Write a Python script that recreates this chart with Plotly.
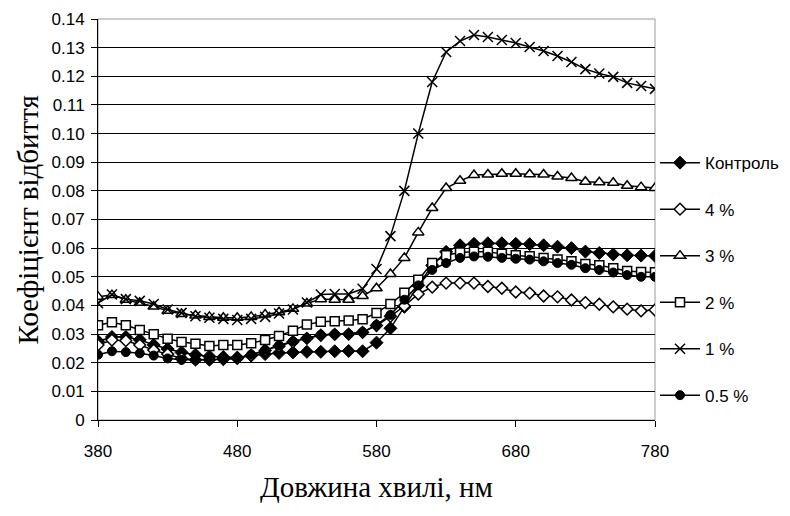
import plotly.graph_objects as go

wavelength = list(range(380, 781, 10))

kontrol = [0.0275, 0.0290, 0.0290, 0.0280, 0.0262, 0.0248, 0.0236, 0.0228, 0.0222, 0.0220,
           0.0218, 0.0225, 0.0230, 0.0234, 0.0236, 0.0238, 0.0238, 0.0240, 0.0241, 0.0240,
           0.0270, 0.0320, 0.0395, 0.0470, 0.0540, 0.0587, 0.0610, 0.0615, 0.0617, 0.0617,
           0.0615, 0.0614, 0.0610, 0.0605, 0.0600, 0.0588, 0.0583, 0.0578, 0.0575, 0.0574, 0.0573]

p4 = [0.0262, 0.0279, 0.0277, 0.0262, 0.0244, 0.0230, 0.0215, 0.0210, 0.0210, 0.0212,
      0.0215, 0.0226, 0.0243, 0.0258, 0.0273, 0.0285, 0.0296, 0.0299, 0.0300, 0.0306,
      0.0330, 0.0362, 0.0398, 0.0440, 0.0464, 0.0478, 0.0478, 0.0478, 0.0466, 0.0460,
      0.0447, 0.0443, 0.0433, 0.0430, 0.0419, 0.0410, 0.0404, 0.0395, 0.0387, 0.0381, 0.0384]

p3 = [0.0430, 0.0436, 0.0420, 0.0409, 0.0396, 0.0381, 0.0370, 0.0365, 0.0360, 0.0357,
      0.0357, 0.0360, 0.0368, 0.0376, 0.0388, 0.0407, 0.0422, 0.0420, 0.0420, 0.0433,
      0.0460, 0.0510, 0.0566, 0.0655, 0.0740, 0.0810, 0.0835, 0.0855, 0.0857, 0.0860,
      0.0860, 0.0858, 0.0857, 0.0850, 0.0845, 0.0832, 0.0830, 0.0828, 0.0818, 0.0813, 0.0810]

p2 = [0.0331, 0.0341, 0.0331, 0.0314, 0.0299, 0.0284, 0.0272, 0.0266, 0.0258, 0.0262,
      0.0262, 0.0268, 0.0279, 0.0293, 0.0312, 0.0333, 0.0343, 0.0345, 0.0347, 0.0352,
      0.0374, 0.0405, 0.0444, 0.0490, 0.0548, 0.0575, 0.0585, 0.0587, 0.0587, 0.0580,
      0.0575, 0.0572, 0.0566, 0.0560, 0.0554, 0.0545, 0.0540, 0.0530, 0.0520, 0.0517, 0.0516]

p1 = [0.0408, 0.0438, 0.0422, 0.0416, 0.0405, 0.0386, 0.0374, 0.0362, 0.0357, 0.0353,
      0.0349, 0.0353, 0.0360, 0.0372, 0.0386, 0.0410, 0.0438, 0.0440, 0.0440, 0.0458,
      0.0527, 0.0642, 0.0800, 0.1000, 0.1180, 0.1285, 0.1323, 0.1344, 0.1337, 0.1327,
      0.1316, 0.1302, 0.1288, 0.1271, 0.1250, 0.1225, 0.1210, 0.1198, 0.1177, 0.1166, 0.1156]

p05 = [0.0228, 0.0240, 0.0237, 0.0233, 0.0225, 0.0215, 0.0210, 0.0210, 0.0210, 0.0213,
       0.0216, 0.0228, 0.0245, 0.0260, 0.0275, 0.0286, 0.0297, 0.0300, 0.0300, 0.0307,
       0.0332, 0.0367, 0.0420, 0.0470, 0.0524, 0.0548, 0.0566, 0.0571, 0.0570, 0.0566,
       0.0563, 0.0560, 0.0554, 0.0548, 0.0542, 0.0530, 0.0524, 0.0515, 0.0506, 0.0500, 0.0500]

series_names = ["Контроль", "4 %", "3 %", "2 %", "1 %", "0.5 %"]
series_values = [kontrol, p4, p3, p2, p1, p05]

x_ticks = [380, 480, 580, 680, 780]
y_tickvals = [i / 100 for i in range(0, 15)]
y_ticktext = ["0"] + ["%.2f" % v for v in y_tickvals[1:]]

x_title = "Довжина хвилі, нм"
y_title = "Коефіцієнт відбиття"

styles = [
    dict(symbol="diamond", size=10, color="black", line=dict(color="black", width=1)),
    dict(symbol="diamond", size=9, color="white", line=dict(color="black", width=1.5)),
    dict(symbol="triangle-up", size=10, color="white", line=dict(color="black", width=1.5)),
    dict(symbol="square", size=9, color="white", line=dict(color="black", width=1.5)),
    dict(symbol="x-thin", size=10, color="black", line=dict(color="black", width=1.5)),
    dict(symbol="circle", size=9, color="black", line=dict(color="black", width=1)),
]

fig = go.Figure()
for name, vals, st in zip(series_names, series_values, styles):
    fig.add_trace(go.Scatter(
        x=wavelength, y=vals, name=name, mode="lines+markers",
        line=dict(color="black", width=1.5),
        marker=st, legendgroup=name,
    ))

serif = "Liberation Serif, Times New Roman, serif"

fig.update_layout(
    width=790, height=516,
    paper_bgcolor="white", plot_bgcolor="white",
    margin=dict(l=90, r=143, t=11, b=104, autoexpand=False),
    font=dict(family="Liberation Sans, Arial, sans-serif", size=17, color="black"),
    showlegend=True,
    legend=dict(x=1.0, xanchor="left", y=0.6855, yanchor="top",
                font=dict(size=17), tracegroupgap=21.4, traceorder="grouped",
                bgcolor="rgba(0,0,0,0)", itemwidth=40),
    xaxis=dict(range=[380, 780], tickvals=x_ticks, ticks="outside", ticklen=6,
               tickcolor="black", showline=True, linecolor="black", linewidth=1,
               showgrid=False, zeroline=False, ticklabelstandoff=10, automargin=False),
    yaxis=dict(range=[0, 0.14], tickvals=y_tickvals, ticktext=y_ticktext,
               ticks="outside", ticklen=6, tickcolor="black", showline=True,
               linecolor="black", linewidth=1, showgrid=True, gridcolor="black",
               gridwidth=1, zeroline=False, ticklabelstandoff=3, automargin=False),
    annotations=[
        dict(text=x_title, xref="paper", yref="paper", x=0.5, y=-0.167,
             xanchor="center", yanchor="middle", showarrow=False,
             font=dict(family=serif, size=29)),
        dict(text=y_title, xref="paper", yref="paper", x=-0.1257, y=0.5,
             xanchor="center", yanchor="middle", showarrow=False, textangle=-90,
             font=dict(family=serif, size=29)),
    ],
)

fig.add_shape(type="rect", xref="paper", yref="paper", x0=0, x1=1, y0=0, y1=1,
              line=dict(color="#999999", width=1), layer="below")

fig.write_html("out.html")
